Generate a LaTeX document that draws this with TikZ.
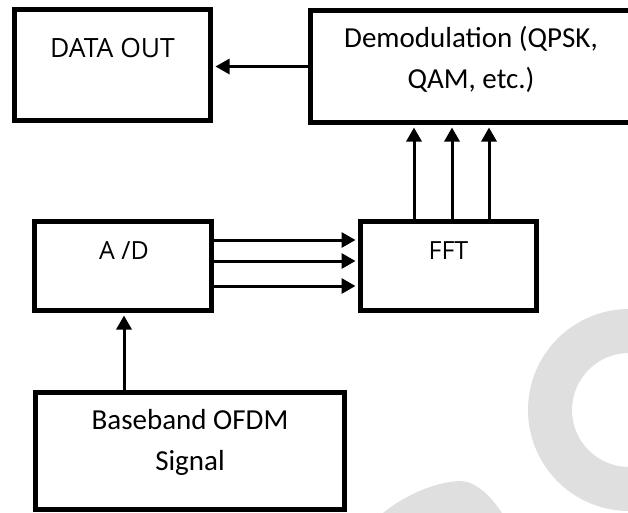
\documentclass[tikz,border=0pt]{standalone}
\usepackage{fontspec}
\usepackage{tikz}
\usetikzlibrary{arrows.meta,positioning,shapes}
\newfontfamily\calibri{Carlito}
\newfontfamily\opensans{Open Sans}

\begin{document}
\begin{tikzpicture}[shorten >=2.5pt, node distance=2.0cm, on grid, auto]

    % Estilos para los bloques, textos y flechas
    \tikzstyle{bloque}=[rectangle, draw, line width=5pt, minimum width=176pt, minimum height=89pt, inner sep=0pt]
    \tikzstyle{texto}=[anchor=base, align=center, font=\calibri\fontsize{29}{41.5}\selectfont]
    \tikzstyle{textob}=[anchor=base, font=\opensans\fontsize{25}{30}\selectfont]
    \tikzstyle{flecha}=[line width=3pt, -{Triangle[length=14pt, width=15pt]}]
    \tikzstyle{marca}=[fill=gray!25, draw=none]

    % Marco de la figura
    \useasboundingbox (-123pt,-246pt) rectangle (505pt,266pt);

    % Marca de agua (gris claro)
    \fill[marca, even odd rule] (506pt,-144pt) circle (101pt) circle (57pt);
    \fill[marca] (260pt,-247pt) .. controls (282pt,-229pt) and (312pt,-216pt) .. (337pt,-215pt)
        .. controls (352pt,-215pt) and (367pt,-229pt) .. (379pt,-247pt) -- cycle;

    % Bloques
    \node[bloque] (ad) {};
    \node[bloque] (fft) [right=325.5pt of ad] {};
    \node[bloque, minimum width=321pt, minimum height=112pt] (demod) [above=199.5pt of fft, xshift=22.5pt] {};
    \node[bloque, minimum width=196pt, minimum height=111pt] (salida) [above=201pt of ad, xshift=-10.5pt] {};
    \node[bloque, minimum width=309pt, minimum height=117pt] (senal) [below=185pt of ad, xshift=67pt] {};

    % Textos de los bloques (en dos lineas la base es la de la ultima linea)
    \node[textob, font=\opensans\fontsize{26.5}{30}\selectfont] (salidatxt) at ([yshift=-50.5pt]salida.north) {DATA OUT};
    \node[texto] (demodtxt) at ([yshift=-80.5pt]demod.north) {Demodulation (QPSK,\\QAM, etc.)};
    \node[textob] (adtxt) at ([xshift=1pt, yshift=-40.5pt]ad.north) {A /D};
    \node[textob] (ffttxt) at ([yshift=-40.5pt]fft.north) {FFT};
    \node[texto] (senaltxt) at ([yshift=-80.5pt]senal.north) {Baseband OFDM\\Signal};

    % Conexiones entre bloques
    \path[flecha]
        (demod.west) edge ([yshift=-1.5pt]salida.east)
        ([yshift=26pt]ad.east) edge ([yshift=26pt]fft.west)
        ([yshift=5pt]ad.east) edge ([yshift=5pt]fft.west)
        ([yshift=-20pt]ad.east) edge ([yshift=-20pt]fft.west)
        ([xshift=-34.5pt]fft.north) edge ([xshift=-57pt]demod.south)
        ([xshift=3.5pt]fft.north) edge ([xshift=-19pt]demod.south)
        ([xshift=40.5pt]fft.north) edge ([xshift=18pt]demod.south)
        ([xshift=-66pt]senal.north) edge ([xshift=1pt]ad.south);
\end{tikzpicture}
\end{document}
